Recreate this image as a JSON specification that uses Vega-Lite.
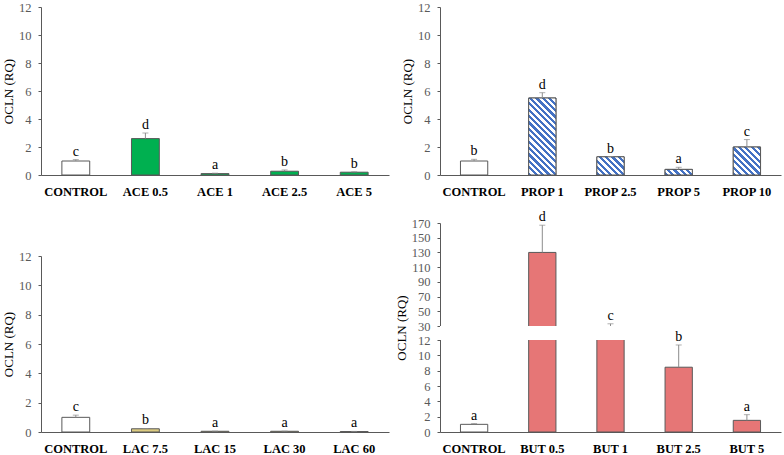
{
  "$schema": "https://vega.github.io/schema/vega-lite/v6.json",
  "background": "white",
  "padding": {"left": 2, "top": 1, "right": 2, "bottom": 0},
  "columns": 2,
  "spacing": {"row": 12, "column": 6},
  "datasets": {
    "ace": [
      {"treatment": "CONTROL", "group": "CONTROL", "mean": 1.0, "err": 1.1, "letter": "c"},
      {"treatment": "ACE 0.5", "group": "ACE", "mean": 2.6, "err": 3.0, "letter": "d"},
      {"treatment": "ACE 1", "group": "ACE", "mean": 0.1, "err": 0.13, "letter": "a"},
      {"treatment": "ACE 2.5", "group": "ACE", "mean": 0.27, "err": 0.36, "letter": "b"},
      {"treatment": "ACE 5", "group": "ACE", "mean": 0.2, "err": 0.23, "letter": "b"}
    ],
    "prop": [
      {"treatment": "CONTROL", "group": "CONTROL", "mean": 1.0, "err": 1.12, "letter": "b"},
      {"treatment": "PROP 1", "group": "PROP", "mean": 5.5, "err": 5.88, "letter": "d"},
      {"treatment": "PROP 2.5", "group": "PROP", "mean": 1.3, "err": 1.32, "letter": "b"},
      {"treatment": "PROP 5", "group": "PROP", "mean": 0.4, "err": 0.55, "letter": "a"},
      {"treatment": "PROP 10", "group": "PROP", "mean": 2.0, "err": 2.53, "letter": "c"}
    ],
    "lac": [
      {"treatment": "CONTROL", "group": "CONTROL", "mean": 1.0, "err": 1.15, "letter": "c"},
      {"treatment": "LAC 7.5", "group": "LAC", "mean": 0.22, "err": 0.24, "letter": "b"},
      {"treatment": "LAC 15", "group": "LAC", "mean": 0.05, "err": 0.06, "letter": "a"},
      {"treatment": "LAC 30", "group": "LAC", "mean": 0.05, "err": 0.06, "letter": "a"},
      {"treatment": "LAC 60", "group": "LAC", "mean": 0.03, "err": 0.04, "letter": "a"}
    ],
    "but": [
      {"treatment": "CONTROL", "group": "CONTROL", "mean": 1.0, "err": 1.1, "letter": "a"},
      {"treatment": "BUT 0.5", "group": "BUT", "mean": 130, "err": 167, "letter": "d"},
      {"treatment": "BUT 1", "group": "BUT", "mean": 27, "err": 33, "letter": "c"},
      {"treatment": "BUT 2.5", "group": "BUT", "mean": 8.45, "err": 11.35, "letter": "b"},
      {"treatment": "BUT 5", "group": "BUT", "mean": 1.52, "err": 2.26, "letter": "a"}
    ]
  },
  "concat": [
    {
      "width": 348, "height": 168,
      "data": {"name": "ace"},
      "encoding": {
        "x": {"field": "treatment", "type": "nominal", "sort": null, "scale": {"paddingInner": 0.6, "paddingOuter": 0.3}, "axis": {"title": null}},
        "y": {"field": "mean", "type": "quantitative", "scale": {"domain": [0, 12], "nice": false}, "axis": {"title": "OCLN (RQ)", "values": [0, 2, 4, 6, 8, 10, 12]}}
      },
      "layer": [
        {"mark": {"type": "bar", "stroke": "#595959", "strokeWidth": 1}, "encoding": {"fill": {"field": "group", "type": "nominal", "scale": {"domain": ["CONTROL", "ACE", "PROP", "LAC", "BUT"], "range": ["#ffffff", "#00b050", "#ffffff", "#dccb80", "#e67676"]}, "legend": null}}},
        {"mark": {"type": "rule", "color": "#8c8c8c"}, "encoding": {"y2": {"field": "err"}}},
        {"mark": {"type": "tick", "color": "#8c8c8c", "orient": "horizontal", "size": 6, "thickness": 1}, "encoding": {"y": {"field": "err", "type": "quantitative", "scale": {"domain": [0, 12], "nice": false}, "axis": {"title": "OCLN (RQ)", "values": [0, 2, 4, 6, 8, 10, 12]}}}},
        {"mark": {"type": "text", "dy": -4, "baseline": "alphabetic", "fontSize": 14, "color": "#000000"}, "encoding": {"y": {"field": "err", "type": "quantitative", "scale": {"domain": [0, 12], "nice": false}, "axis": {"title": "OCLN (RQ)", "values": [0, 2, 4, 6, 8, 10, 12]}}, "text": {"field": "letter"}}}
      ]
    },
    {
      "width": 341, "height": 168,
      "data": {"name": "prop"},
      "encoding": {
        "x": {"field": "treatment", "type": "nominal", "sort": null, "scale": {"paddingInner": 0.6, "paddingOuter": 0.3}, "axis": {"title": null}},
        "y": {"field": "mean", "type": "quantitative", "scale": {"domain": [0, 12], "nice": false}, "axis": {"title": "OCLN (RQ)", "values": [0, 2, 4, 6, 8, 10, 12]}}
      },
      "layer": [
        {"mark": {"type": "bar", "stroke": "#595959", "strokeWidth": 1}, "encoding": {"fill": {"field": "group", "type": "nominal", "scale": {"domain": ["CONTROL", "ACE", "PROP", "LAC", "BUT"], "range": ["#ffffff", "#00b050", "#ffffff", "#dccb80", "#e67676"]}, "legend": null}}},
        {"transform": [{"filter": "datum.treatment === 'PROP 1'"}], "mark": {"type": "bar", "stroke": "#595959", "strokeWidth": 1, "fill": {"gradient": "linear", "x1": 0, "y1": 1, "x2": 0.4448, "y2": -0.2555, "stops": [{"offset":0,"color":"#4472c4"},{"offset":0.0294,"color":"#4472c4"},{"offset":0.0294,"color":"#fff"},{"offset":0.0588,"color":"#fff"},{"offset":0.0588,"color":"#4472c4"},{"offset":0.0882,"color":"#4472c4"},{"offset":0.0882,"color":"#fff"},{"offset":0.1176,"color":"#fff"},{"offset":0.1176,"color":"#4472c4"},{"offset":0.1471,"color":"#4472c4"},{"offset":0.1471,"color":"#fff"},{"offset":0.1765,"color":"#fff"},{"offset":0.1765,"color":"#4472c4"},{"offset":0.2059,"color":"#4472c4"},{"offset":0.2059,"color":"#fff"},{"offset":0.2353,"color":"#fff"},{"offset":0.2353,"color":"#4472c4"},{"offset":0.2647,"color":"#4472c4"},{"offset":0.2647,"color":"#fff"},{"offset":0.2941,"color":"#fff"},{"offset":0.2941,"color":"#4472c4"},{"offset":0.3235,"color":"#4472c4"},{"offset":0.3235,"color":"#fff"},{"offset":0.3529,"color":"#fff"},{"offset":0.3529,"color":"#4472c4"},{"offset":0.3824,"color":"#4472c4"},{"offset":0.3824,"color":"#fff"},{"offset":0.4118,"color":"#fff"},{"offset":0.4118,"color":"#4472c4"},{"offset":0.4412,"color":"#4472c4"},{"offset":0.4412,"color":"#fff"},{"offset":0.4706,"color":"#fff"},{"offset":0.4706,"color":"#4472c4"},{"offset":0.5,"color":"#4472c4"},{"offset":0.5,"color":"#fff"},{"offset":0.5294,"color":"#fff"},{"offset":0.5294,"color":"#4472c4"},{"offset":0.5588,"color":"#4472c4"},{"offset":0.5588,"color":"#fff"},{"offset":0.5882,"color":"#fff"},{"offset":0.5882,"color":"#4472c4"},{"offset":0.6176,"color":"#4472c4"},{"offset":0.6176,"color":"#fff"},{"offset":0.6471,"color":"#fff"},{"offset":0.6471,"color":"#4472c4"},{"offset":0.6765,"color":"#4472c4"},{"offset":0.6765,"color":"#fff"},{"offset":0.7059,"color":"#fff"},{"offset":0.7059,"color":"#4472c4"},{"offset":0.7353,"color":"#4472c4"},{"offset":0.7353,"color":"#fff"},{"offset":0.7647,"color":"#fff"},{"offset":0.7647,"color":"#4472c4"},{"offset":0.7941,"color":"#4472c4"},{"offset":0.7941,"color":"#fff"},{"offset":0.8235,"color":"#fff"},{"offset":0.8235,"color":"#4472c4"},{"offset":0.8529,"color":"#4472c4"},{"offset":0.8529,"color":"#fff"},{"offset":0.8824,"color":"#fff"},{"offset":0.8824,"color":"#4472c4"},{"offset":0.9118,"color":"#4472c4"},{"offset":0.9118,"color":"#fff"},{"offset":0.9412,"color":"#fff"},{"offset":0.9412,"color":"#4472c4"},{"offset":0.9706,"color":"#4472c4"},{"offset":0.9706,"color":"#fff"},{"offset":1,"color":"#fff"}]}}},
        {"transform": [{"filter": "datum.treatment === 'PROP 2.5'"}], "mark": {"type": "bar", "stroke": "#595959", "strokeWidth": 1, "fill": {"gradient": "linear", "x1": 0, "y1": 1, "x2": 2.7599, "y2": -0.8413, "stops": [{"offset":0,"color":"#4472c4"},{"offset":0.0294,"color":"#4472c4"},{"offset":0.0294,"color":"#fff"},{"offset":0.0588,"color":"#fff"},{"offset":0.0588,"color":"#4472c4"},{"offset":0.0882,"color":"#4472c4"},{"offset":0.0882,"color":"#fff"},{"offset":0.1176,"color":"#fff"},{"offset":0.1176,"color":"#4472c4"},{"offset":0.1471,"color":"#4472c4"},{"offset":0.1471,"color":"#fff"},{"offset":0.1765,"color":"#fff"},{"offset":0.1765,"color":"#4472c4"},{"offset":0.2059,"color":"#4472c4"},{"offset":0.2059,"color":"#fff"},{"offset":0.2353,"color":"#fff"},{"offset":0.2353,"color":"#4472c4"},{"offset":0.2647,"color":"#4472c4"},{"offset":0.2647,"color":"#fff"},{"offset":0.2941,"color":"#fff"},{"offset":0.2941,"color":"#4472c4"},{"offset":0.3235,"color":"#4472c4"},{"offset":0.3235,"color":"#fff"},{"offset":0.3529,"color":"#fff"},{"offset":0.3529,"color":"#4472c4"},{"offset":0.3824,"color":"#4472c4"},{"offset":0.3824,"color":"#fff"},{"offset":0.4118,"color":"#fff"},{"offset":0.4118,"color":"#4472c4"},{"offset":0.4412,"color":"#4472c4"},{"offset":0.4412,"color":"#fff"},{"offset":0.4706,"color":"#fff"},{"offset":0.4706,"color":"#4472c4"},{"offset":0.5,"color":"#4472c4"},{"offset":0.5,"color":"#fff"},{"offset":0.5294,"color":"#fff"},{"offset":0.5294,"color":"#4472c4"},{"offset":0.5588,"color":"#4472c4"},{"offset":0.5588,"color":"#fff"},{"offset":0.5882,"color":"#fff"},{"offset":0.5882,"color":"#4472c4"},{"offset":0.6176,"color":"#4472c4"},{"offset":0.6176,"color":"#fff"},{"offset":0.6471,"color":"#fff"},{"offset":0.6471,"color":"#4472c4"},{"offset":0.6765,"color":"#4472c4"},{"offset":0.6765,"color":"#fff"},{"offset":0.7059,"color":"#fff"},{"offset":0.7059,"color":"#4472c4"},{"offset":0.7353,"color":"#4472c4"},{"offset":0.7353,"color":"#fff"},{"offset":0.7647,"color":"#fff"},{"offset":0.7647,"color":"#4472c4"},{"offset":0.7941,"color":"#4472c4"},{"offset":0.7941,"color":"#fff"},{"offset":0.8235,"color":"#fff"},{"offset":0.8235,"color":"#4472c4"},{"offset":0.8529,"color":"#4472c4"},{"offset":0.8529,"color":"#fff"},{"offset":0.8824,"color":"#fff"},{"offset":0.8824,"color":"#4472c4"},{"offset":0.9118,"color":"#4472c4"},{"offset":0.9118,"color":"#fff"},{"offset":0.9412,"color":"#fff"},{"offset":0.9412,"color":"#4472c4"},{"offset":0.9706,"color":"#4472c4"},{"offset":0.9706,"color":"#fff"},{"offset":1,"color":"#fff"}]}}},
        {"transform": [{"filter": "datum.treatment === 'PROP 5'"}], "mark": {"type": "bar", "stroke": "#595959", "strokeWidth": 1, "fill": {"gradient": "linear", "x1": 0, "y1": 1, "x2": 3.8269, "y2": 0.2144, "stops": [{"offset":0,"color":"#4472c4"},{"offset":0.0294,"color":"#4472c4"},{"offset":0.0294,"color":"#fff"},{"offset":0.0588,"color":"#fff"},{"offset":0.0588,"color":"#4472c4"},{"offset":0.0882,"color":"#4472c4"},{"offset":0.0882,"color":"#fff"},{"offset":0.1176,"color":"#fff"},{"offset":0.1176,"color":"#4472c4"},{"offset":0.1471,"color":"#4472c4"},{"offset":0.1471,"color":"#fff"},{"offset":0.1765,"color":"#fff"},{"offset":0.1765,"color":"#4472c4"},{"offset":0.2059,"color":"#4472c4"},{"offset":0.2059,"color":"#fff"},{"offset":0.2353,"color":"#fff"},{"offset":0.2353,"color":"#4472c4"},{"offset":0.2647,"color":"#4472c4"},{"offset":0.2647,"color":"#fff"},{"offset":0.2941,"color":"#fff"},{"offset":0.2941,"color":"#4472c4"},{"offset":0.3235,"color":"#4472c4"},{"offset":0.3235,"color":"#fff"},{"offset":0.3529,"color":"#fff"},{"offset":0.3529,"color":"#4472c4"},{"offset":0.3824,"color":"#4472c4"},{"offset":0.3824,"color":"#fff"},{"offset":0.4118,"color":"#fff"},{"offset":0.4118,"color":"#4472c4"},{"offset":0.4412,"color":"#4472c4"},{"offset":0.4412,"color":"#fff"},{"offset":0.4706,"color":"#fff"},{"offset":0.4706,"color":"#4472c4"},{"offset":0.5,"color":"#4472c4"},{"offset":0.5,"color":"#fff"},{"offset":0.5294,"color":"#fff"},{"offset":0.5294,"color":"#4472c4"},{"offset":0.5588,"color":"#4472c4"},{"offset":0.5588,"color":"#fff"},{"offset":0.5882,"color":"#fff"},{"offset":0.5882,"color":"#4472c4"},{"offset":0.6176,"color":"#4472c4"},{"offset":0.6176,"color":"#fff"},{"offset":0.6471,"color":"#fff"},{"offset":0.6471,"color":"#4472c4"},{"offset":0.6765,"color":"#4472c4"},{"offset":0.6765,"color":"#fff"},{"offset":0.7059,"color":"#fff"},{"offset":0.7059,"color":"#4472c4"},{"offset":0.7353,"color":"#4472c4"},{"offset":0.7353,"color":"#fff"},{"offset":0.7647,"color":"#fff"},{"offset":0.7647,"color":"#4472c4"},{"offset":0.7941,"color":"#4472c4"},{"offset":0.7941,"color":"#fff"},{"offset":0.8235,"color":"#fff"},{"offset":0.8235,"color":"#4472c4"},{"offset":0.8529,"color":"#4472c4"},{"offset":0.8529,"color":"#fff"},{"offset":0.8824,"color":"#fff"},{"offset":0.8824,"color":"#4472c4"},{"offset":0.9118,"color":"#4472c4"},{"offset":0.9118,"color":"#fff"},{"offset":0.9412,"color":"#fff"},{"offset":0.9412,"color":"#4472c4"},{"offset":0.9706,"color":"#4472c4"},{"offset":0.9706,"color":"#fff"},{"offset":1,"color":"#fff"}]}}},
        {"transform": [{"filter": "datum.treatment === 'PROP 10'"}], "mark": {"type": "bar", "stroke": "#595959", "strokeWidth": 1, "fill": {"gradient": "linear", "x1": 0, "y1": 1, "x2": 1.9422, "y2": -0.9935, "stops": [{"offset":0,"color":"#4472c4"},{"offset":0.0294,"color":"#4472c4"},{"offset":0.0294,"color":"#fff"},{"offset":0.0588,"color":"#fff"},{"offset":0.0588,"color":"#4472c4"},{"offset":0.0882,"color":"#4472c4"},{"offset":0.0882,"color":"#fff"},{"offset":0.1176,"color":"#fff"},{"offset":0.1176,"color":"#4472c4"},{"offset":0.1471,"color":"#4472c4"},{"offset":0.1471,"color":"#fff"},{"offset":0.1765,"color":"#fff"},{"offset":0.1765,"color":"#4472c4"},{"offset":0.2059,"color":"#4472c4"},{"offset":0.2059,"color":"#fff"},{"offset":0.2353,"color":"#fff"},{"offset":0.2353,"color":"#4472c4"},{"offset":0.2647,"color":"#4472c4"},{"offset":0.2647,"color":"#fff"},{"offset":0.2941,"color":"#fff"},{"offset":0.2941,"color":"#4472c4"},{"offset":0.3235,"color":"#4472c4"},{"offset":0.3235,"color":"#fff"},{"offset":0.3529,"color":"#fff"},{"offset":0.3529,"color":"#4472c4"},{"offset":0.3824,"color":"#4472c4"},{"offset":0.3824,"color":"#fff"},{"offset":0.4118,"color":"#fff"},{"offset":0.4118,"color":"#4472c4"},{"offset":0.4412,"color":"#4472c4"},{"offset":0.4412,"color":"#fff"},{"offset":0.4706,"color":"#fff"},{"offset":0.4706,"color":"#4472c4"},{"offset":0.5,"color":"#4472c4"},{"offset":0.5,"color":"#fff"},{"offset":0.5294,"color":"#fff"},{"offset":0.5294,"color":"#4472c4"},{"offset":0.5588,"color":"#4472c4"},{"offset":0.5588,"color":"#fff"},{"offset":0.5882,"color":"#fff"},{"offset":0.5882,"color":"#4472c4"},{"offset":0.6176,"color":"#4472c4"},{"offset":0.6176,"color":"#fff"},{"offset":0.6471,"color":"#fff"},{"offset":0.6471,"color":"#4472c4"},{"offset":0.6765,"color":"#4472c4"},{"offset":0.6765,"color":"#fff"},{"offset":0.7059,"color":"#fff"},{"offset":0.7059,"color":"#4472c4"},{"offset":0.7353,"color":"#4472c4"},{"offset":0.7353,"color":"#fff"},{"offset":0.7647,"color":"#fff"},{"offset":0.7647,"color":"#4472c4"},{"offset":0.7941,"color":"#4472c4"},{"offset":0.7941,"color":"#fff"},{"offset":0.8235,"color":"#fff"},{"offset":0.8235,"color":"#4472c4"},{"offset":0.8529,"color":"#4472c4"},{"offset":0.8529,"color":"#fff"},{"offset":0.8824,"color":"#fff"},{"offset":0.8824,"color":"#4472c4"},{"offset":0.9118,"color":"#4472c4"},{"offset":0.9118,"color":"#fff"},{"offset":0.9412,"color":"#fff"},{"offset":0.9412,"color":"#4472c4"},{"offset":0.9706,"color":"#4472c4"},{"offset":0.9706,"color":"#fff"},{"offset":1,"color":"#fff"}]}}},
        {"mark": {"type": "rule", "color": "#8c8c8c"}, "encoding": {"y2": {"field": "err"}}},
        {"mark": {"type": "tick", "color": "#8c8c8c", "orient": "horizontal", "size": 6, "thickness": 1}, "encoding": {"y": {"field": "err", "type": "quantitative", "scale": {"domain": [0, 12], "nice": false}, "axis": {"title": "OCLN (RQ)", "values": [0, 2, 4, 6, 8, 10, 12]}}}},
        {"mark": {"type": "text", "dy": -4, "baseline": "alphabetic", "fontSize": 14, "color": "#000000"}, "encoding": {"y": {"field": "err", "type": "quantitative", "scale": {"domain": [0, 12], "nice": false}, "axis": {"title": "OCLN (RQ)", "values": [0, 2, 4, 6, 8, 10, 12]}}, "text": {"field": "letter"}}}
      ]
    },
    {
      "width": 348, "height": 209,
      "data": {"name": "lac"},
      "encoding": {
        "x": {"field": "treatment", "type": "nominal", "sort": null, "scale": {"paddingInner": 0.6, "paddingOuter": 0.3}, "axis": {"title": null}},
        "y": {"field": "mean", "type": "quantitative", "scale": {"domain": [0, 12], "range": [209, 33], "nice": false}, "axis": {"title": "OCLN (RQ)", "values": [0, 2, 4, 6, 8, 10, 12]}}
      },
      "layer": [
        {"mark": {"type": "bar", "stroke": "#595959", "strokeWidth": 1}, "encoding": {"fill": {"field": "group", "type": "nominal", "scale": {"domain": ["CONTROL", "ACE", "PROP", "LAC", "BUT"], "range": ["#ffffff", "#00b050", "#ffffff", "#dccb80", "#e67676"]}, "legend": null}}},
        {"mark": {"type": "rule", "color": "#8c8c8c"}, "encoding": {"y2": {"field": "err"}}},
        {"mark": {"type": "tick", "color": "#8c8c8c", "orient": "horizontal", "size": 6, "thickness": 1}, "encoding": {"y": {"field": "err", "type": "quantitative", "scale": {"domain": [0, 12], "range": [209, 33], "nice": false}, "axis": {"title": "OCLN (RQ)", "values": [0, 2, 4, 6, 8, 10, 12]}}}},
        {"mark": {"type": "text", "dy": -4, "baseline": "alphabetic", "fontSize": 14, "color": "#000000"}, "encoding": {"y": {"field": "err", "type": "quantitative", "scale": {"domain": [0, 12], "range": [209, 33], "nice": false}, "axis": {"title": "OCLN (RQ)", "values": [0, 2, 4, 6, 8, 10, 12]}}, "text": {"field": "letter"}}}
      ]
    },
    {
      "width": 341, "height": 209,
      "data": {"name": "but"},
      "layer": [
        {"mark": {"type": "bar", "stroke": "#595959", "strokeWidth": 1}, "encoding": {
          "x": {"field": "treatment", "type": "nominal", "sort": null, "scale": {"paddingInner": 0.6, "paddingOuter": 0.3}, "axis": {"title": null}},
          "y": {"field": "mean", "type": "quantitative", "scale": {"domain": [0, 12, 30, 170], "range": [209, 117, 103, 0], "nice": false, "zero": false}, "axis": {"title": "OCLN (RQ)", "values": [0, 2, 4, 6, 8, 10, 12, 30, 50, 70, 90, 110, 130, 150, 170]}},
          "fill": {"field": "group", "type": "nominal", "scale": {"domain": ["CONTROL", "ACE", "PROP", "LAC", "BUT"], "range": ["#ffffff", "#00b050", "#ffffff", "#dccb80", "#e67676"]}, "legend": null}}},
        {"mark": {"type": "rule", "color": "#8c8c8c"}, "encoding": {
          "x": {"field": "treatment", "type": "nominal", "sort": null, "scale": {"paddingInner": 0.6, "paddingOuter": 0.3}, "axis": {"title": null}},
          "y": {"field": "mean", "type": "quantitative", "scale": {"domain": [0, 12, 30, 170], "range": [209, 117, 103, 0], "nice": false, "zero": false}, "axis": {"title": "OCLN (RQ)", "values": [0, 2, 4, 6, 8, 10, 12, 30, 50, 70, 90, 110, 130, 150, 170]}},
          "y2": {"field": "err"}}},
        {"mark": {"type": "tick", "color": "#8c8c8c", "orient": "horizontal", "size": 6, "thickness": 1}, "encoding": {
          "x": {"field": "treatment", "type": "nominal", "sort": null, "scale": {"paddingInner": 0.6, "paddingOuter": 0.3}, "axis": {"title": null}},
          "y": {"field": "err", "type": "quantitative", "scale": {"domain": [0, 12, 30, 170], "range": [209, 117, 103, 0], "nice": false, "zero": false}, "axis": {"title": "OCLN (RQ)", "values": [0, 2, 4, 6, 8, 10, 12, 30, 50, 70, 90, 110, 130, 150, 170]}}}},
        {"mark": {"type": "rect", "fill": "white", "stroke": null, "xOffset": -1}, "encoding": {
          "y": {"datum": 12, "type": "quantitative", "scale": {"domain": [0, 12, 30, 170], "range": [209, 117, 103, 0], "nice": false, "zero": false}, "axis": {"title": "OCLN (RQ)", "values": [0, 2, 4, 6, 8, 10, 12, 30, 50, 70, 90, 110, 130, 150, 170]}},
          "y2": {"datum": 30}}},
        {"mark": {"type": "text", "dy": -4, "baseline": "alphabetic", "fontSize": 14, "color": "#000000"}, "encoding": {
          "x": {"field": "treatment", "type": "nominal", "sort": null, "scale": {"paddingInner": 0.6, "paddingOuter": 0.3}, "axis": {"title": null}},
          "y": {"field": "err", "type": "quantitative", "scale": {"domain": [0, 12, 30, 170], "range": [209, 117, 103, 0], "nice": false, "zero": false}, "axis": {"title": "OCLN (RQ)", "values": [0, 2, 4, 6, 8, 10, 12, 30, 50, 70, 90, 110, 130, 150, 170]}},
          "text": {"field": "letter"}}}
      ]
    }
  ],
  "config": {
    "font": "Liberation Serif",
    "view": {"stroke": null},
    "axis": {"grid": false, "domainColor": "#595959", "tickColor": "#595959", "labelColor": "#595959", "labelFont": "Liberation Serif", "titleFont": "Liberation Serif", "titleFontWeight": "normal", "titleColor": "#000000"},
    "axisX": {"ticks": false, "labelAngle": 0, "labelFontWeight": "bold", "labelColor": "#000000", "labelFontSize": 12.5, "labelPadding": 10},
    "axisY": {"tickSize": 3, "labelFontSize": 12.5, "labelPadding": 7, "labelOverlap": false, "titleFontSize": 13, "titlePadding": 3},
    "text": {"font": "Liberation Serif"}
  }
}
